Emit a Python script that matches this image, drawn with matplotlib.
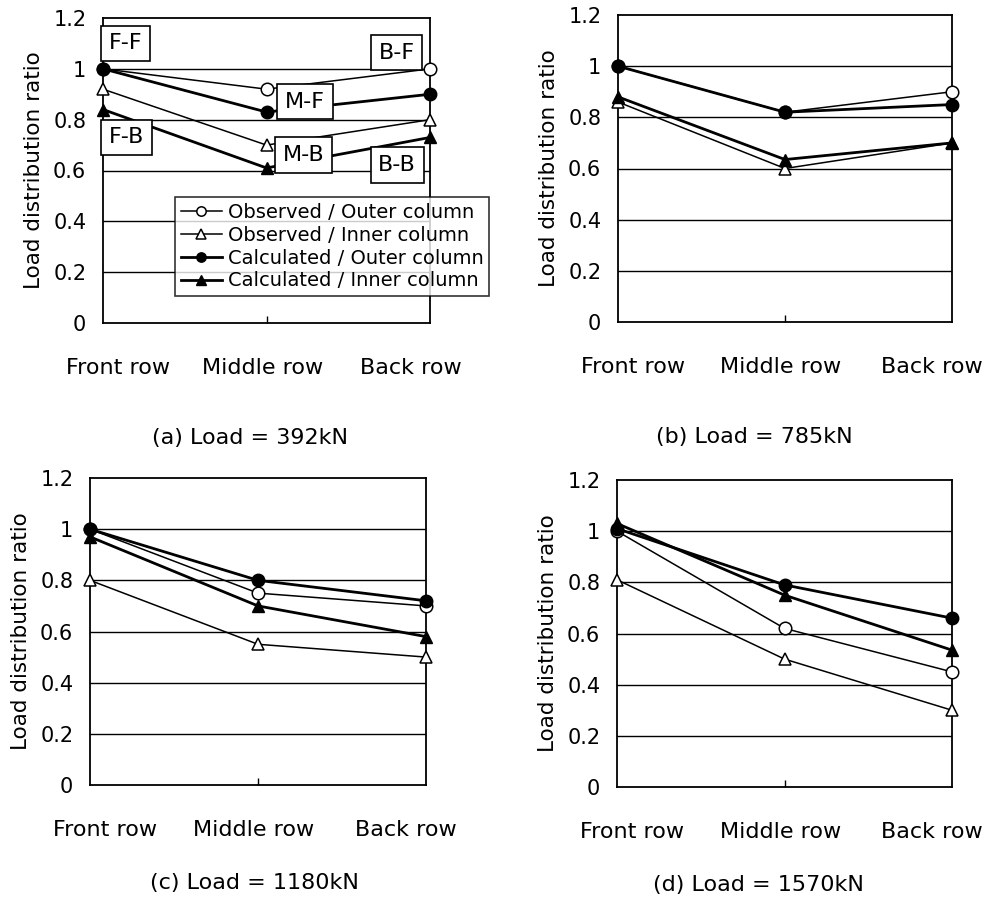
import matplotlib
matplotlib.use('Agg')
import matplotlib.pyplot as plt

plt.rcParams['font.family'] = ['DejaVu Sans']

rows = ['Front row', 'Middle row', 'Back row']
x_pos = [0, 1, 2]

# load distribution ratio per panel: observed outer, observed inner, calculated outer, calculated inner
obs_outer_a = [1.0, 0.92, 1.0]
obs_inner_a = [0.92, 0.70, 0.80]
calc_outer_a = [1.0, 0.83, 0.90]
calc_inner_a = [0.84, 0.61, 0.73]

obs_outer_b = [1.0, 0.82, 0.90]
obs_inner_b = [0.86, 0.60, 0.70]
calc_outer_b = [1.0, 0.82, 0.85]
calc_inner_b = [0.88, 0.635, 0.70]

obs_outer_c = [1.0, 0.75, 0.70]
obs_inner_c = [0.80, 0.55, 0.50]
calc_outer_c = [1.0, 0.80, 0.72]
calc_inner_c = [0.97, 0.70, 0.58]

obs_outer_d = [1.0, 0.62, 0.45]
obs_inner_d = [0.81, 0.50, 0.30]
calc_outer_d = [1.01, 0.79, 0.66]
calc_inner_d = [1.03, 0.75, 0.535]

captions = ['(a) Load = 392kN', '(b) Load = 785kN', '(c) Load = 1180kN', '(d) Load = 1570kN']

# pile labels for panel (a): text, x, y
pile_labels = ['F-F', 'F-B', 'M-F', 'M-B', 'B-F', 'B-B']
pile_x = [0.14, 0.145, 1.235, 1.225, 1.796, 1.80]
pile_y = [1.10, 0.73, 0.871, 0.661, 1.064, 0.622]

W, H = 989, 899
fig = plt.figure(figsize=(W / 100, H / 100), dpi=100)

boxes = [(103, 18, 430, 323), (618, 15, 952, 322), (90, 478, 426, 785), (617, 480, 952, 787)]
cap_pos = [(250, 438), (754, 437), (254, 883), (758, 885)]

panels = [
    (obs_outer_a, obs_inner_a, calc_outer_a, calc_inner_a),
    (obs_outer_b, obs_inner_b, calc_outer_b, calc_inner_b),
    (obs_outer_c, obs_inner_c, calc_outer_c, calc_inner_c),
    (obs_outer_d, obs_inner_d, calc_outer_d, calc_inner_d),
]

for i in range(4):
    l, t, r, b = boxes[i]
    ax = fig.add_axes([l / W, (H - b) / H, (r - l) / W, (b - t) / H])
    oo, oi, co, ci = panels[i]
    ax.plot(x_pos, oo, color='black', lw=1.1, marker='o', ms=9, mfc='white', mec='black', mew=1.1,
            label='Observed / Outer column', zorder=3, clip_on=False)
    ax.plot(x_pos, oi, color='black', lw=1.1, marker='^', ms=9, mfc='white', mec='black', mew=1.1,
            label='Observed / Inner column', zorder=3, clip_on=False)
    ax.plot(x_pos, co, color='black', lw=2.0, marker='o', ms=9, mfc='black', mec='black',
            label='Calculated / Outer column', zorder=4, clip_on=False)
    ax.plot(x_pos, ci, color='black', lw=2.0, marker='^', ms=9, mfc='black', mec='black',
            label='Calculated / Inner column', zorder=4, clip_on=False)

    ax.set_xlim(0, 2)
    ax.set_ylim(0, 1.2)
    ax.set_yticks([0, 0.2, 0.4, 0.6, 0.8, 1.0, 1.2])
    ax.set_yticklabels(['0', '0.2', '0.4', '0.6', '0.8', '1', '1.2'])
    ax.tick_params(axis='y', length=0, pad=12, labelsize=15)
    ax.set_xticks([1])
    ax.set_xticklabels([''])
    ax.tick_params(axis='x', direction='in', length=5, width=1)
    for yv in [0.2, 0.4, 0.6, 0.8, 1.0]:
        ax.axhline(yv, color='black', lw=1.0, zorder=1)
    for s in ax.spines.values():
        s.set_linewidth(1.3)
    ax.set_ylabel('Load distribution ratio', fontsize=15.5)
    ax.yaxis.set_label_coords(-59 / (r - l), 0.5)

    for j in range(3):
        ax.text([0.045, 0.487, 0.94][j], -45 / (b - t), rows[j], transform=ax.transAxes,
                ha='center', va='center', fontsize=16)

    cx, cy = cap_pos[i]
    fig.text(cx / W, 1 - cy / H, captions[i], ha='center', va='center', fontsize=16)

    if i == 0:
        for k in range(len(pile_labels)):
            ax.text(pile_x[k], pile_y[k], pile_labels[k], ha='center', va='center', fontsize=16,
                    zorder=6, bbox=dict(boxstyle='square,pad=0.35', fc='white', ec='black', lw=1.2))
        leg = ax.legend(loc='upper left', bbox_to_anchor=(72 / 327, 126 / 305), borderaxespad=0,
                        fontsize=14, frameon=True, fancybox=False, edgecolor='black',
                        handlelength=2.1, handletextpad=0.3, borderpad=0.3, labelspacing=0.2,
                        markerscale=0.75)
        leg.get_frame().set_linewidth(1.2)
        leg.set_zorder(7)

fig.savefig('out.png', dpi=100)
